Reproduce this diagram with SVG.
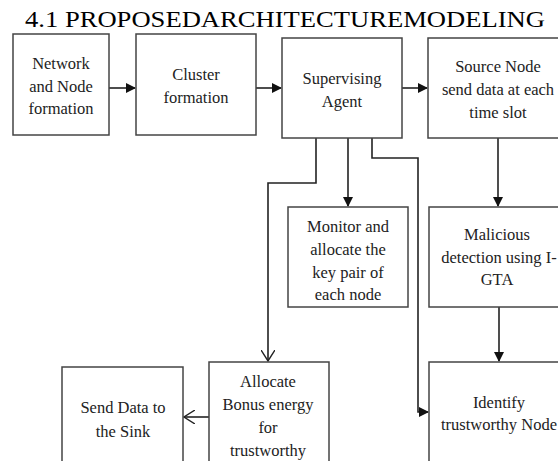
<svg xmlns="http://www.w3.org/2000/svg" width="558" height="461" viewBox="0 0 558 461">
<style>
.box{fill:#fff;stroke:#444;stroke-width:1.5}
.t{font-family:"Liberation Serif","Times New Roman",serif;font-size:16.5px;fill:#222;text-anchor:middle}
.title{font-family:"Liberation Serif","Times New Roman",serif;font-size:23px;fill:#000}
.c{fill:none;stroke:#222;stroke-width:1.6}
</style>
<defs>
<marker id="fa" markerWidth="10" markerHeight="10" refX="9" refY="5" orient="auto" markerUnits="userSpaceOnUse">
<path d="M0,0 L10,5 L0,10 Z" fill="#111"/>
</marker>
<marker id="oa" markerWidth="12" markerHeight="14" refX="11" refY="7" orient="auto" markerUnits="userSpaceOnUse">
<path d="M0,0 L11,7 L0,14" fill="none" stroke="#222" stroke-width="1.4"/>
</marker>
</defs>
<rect width="558" height="461" fill="#fff"/>
<text class="title" x="25" y="27" textLength="520" lengthAdjust="spacingAndGlyphs">4.1 PROPOSEDARCHITECTUREMODELING</text>

<g id="connectors">
<line class="c" x1="109" y1="88" x2="135" y2="88" marker-end="url(#fa)"/>
<line class="c" x1="256" y1="88" x2="281" y2="88" marker-end="url(#fa)"/>
<line class="c" x1="402" y1="88" x2="427" y2="88" marker-end="url(#fa)"/>
<line class="c" x1="348" y1="138" x2="348" y2="206" marker-end="url(#fa)"/>
<polyline class="c" points="316,138 316,183 268,183 268,361" marker-end="url(#oa)"/>
<polyline class="c" points="372,138 372,158 418,158 418,412 428,412" marker-end="url(#fa)"/>
<line class="c" x1="498" y1="138" x2="498" y2="206" marker-end="url(#fa)"/>
<line class="c" x1="499" y1="307" x2="499" y2="361" marker-end="url(#fa)"/>
<line class="c" x1="209" y1="417" x2="184" y2="417" marker-end="url(#oa)"/>
</g>

<g id="n1"><rect class="box" x="13" y="34" width="96" height="101"/>
<text class="t" x="61" y="69">Network</text><text class="t" x="61" y="92">and Node</text><text class="t" x="61" y="114">formation</text></g>
<g id="n2"><rect class="box" x="136" y="34" width="120" height="101"/>
<text class="t" x="196" y="80">Cluster</text><text class="t" x="196" y="103">formation</text></g>
<g id="n3"><rect class="box" x="282" y="38" width="120" height="100"/>
<text class="t" x="342" y="84">Supervising</text><text class="t" x="342" y="107">Agent</text></g>
<g id="n4"><rect class="box" x="428" y="38" width="150" height="100"/>
<text class="t" x="498" y="72">Source Node</text><text class="t" x="498" y="95">send data at each</text><text class="t" x="498" y="118">time slot</text></g>
<g id="n5"><rect class="box" x="288" y="207" width="120" height="100"/>
<text class="t" x="348" y="232">Monitor and</text><text class="t" x="348" y="255">allocate the</text><text class="t" x="348" y="278">key pair of</text><text class="t" x="348" y="300">each node</text></g>
<g id="n6"><rect class="box" x="429" y="207" width="150" height="100"/>
<text class="t" x="497" y="240">Malicious</text><text class="t" x="499" y="263">detection using I-</text><text class="t" x="497" y="285">GTA</text></g>
<g id="n7"><rect class="box" x="62" y="367" width="121" height="110"/>
<text class="t" x="123" y="413">Send Data to</text><text class="t" x="123" y="437">the Sink</text></g>
<g id="n8"><rect class="box" x="209" y="362" width="120" height="115"/>
<text class="t" x="268" y="387">Allocate</text><text class="t" x="268" y="410">Bonus energy</text><text class="t" x="268" y="433">for</text><text class="t" x="268" y="456">trustworthy</text></g>
<g id="n9"><rect class="box" x="429" y="362" width="150" height="115"/>
<text class="t" x="499" y="408">Identify</text><text class="t" x="499" y="430">trustworthy Node</text></g>
</svg>
